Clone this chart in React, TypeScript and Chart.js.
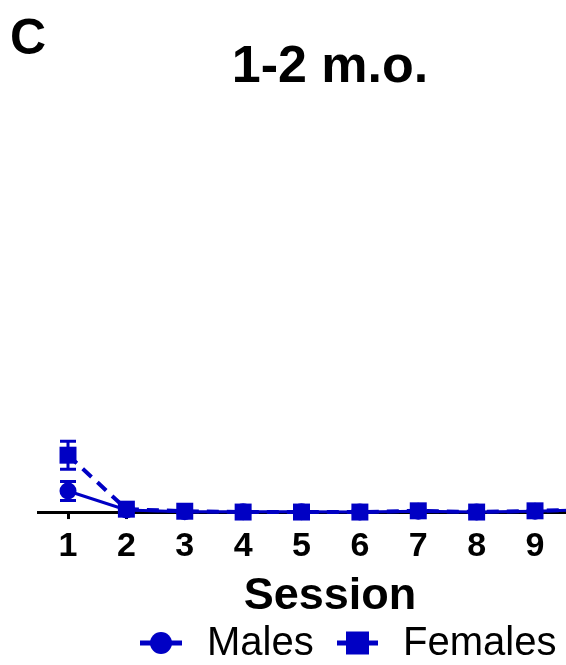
import React, { useEffect, useRef } from "react";
import { Chart, registerables } from "chart.js";

Chart.register(...registerables);

const sessions = [1, 2, 3, 4, 5, 6, 7, 8, 9, 10];
const tickValues = [1, 2, 3, 4, 5, 6, 7, 8, 9];
const malesMean = [5.1, 0.5, 0.1, 0.1, 0.1, 0.0, 0.2, 0.0, 0.2, 0.6];
const malesErr = [2.3, 0.2, 0.1, 0.1, 0.1, 0.0, 0.1, 0.0, 0.1, 0.2];
const femalesMean = [13.8, 0.7, 0.2, 0.0, 0.0, 0.0, 0.3, 0.0, 0.3, 0.7];
const femalesErr = [3.4, 0.3, 0.1, 0.0, 0.0, 0.0, 0.1, 0.0, 0.1, 0.2];
const seriesNames = ["Males", "Females"];
const panelLabel = "C";
const chartTitle = "1-2 m.o.";
const xTitle = "Session";

const BLUE = "#0000C4";
const FONT = "'Liberation Sans', Arial, Helvetica, sans-serif";

export default function App() {
  const ref = useRef<HTMLCanvasElement | null>(null);

  useEffect(() => {
    if (!ref.current) return;
    const errs = [malesErr, femalesErr];

    const errorBars = {
      id: "errorBars",
      afterDatasetsDraw(chart: any) {
        const ctx = chart.ctx;
        const xs = chart.scales.x;
        const ys = chart.scales.y;
        ctx.save();
        ctx.strokeStyle = BLUE;
        ctx.lineWidth = 3;
        chart.data.datasets.forEach((ds: any, di: number) => {
          ds.data.forEach((p: any, i: number) => {
            const e = errs[di][i];
            if (!e) return;
            const x = xs.getPixelForValue(p.x);
            const yt = ys.getPixelForValue(p.y + e);
            const yb = ys.getPixelForValue(p.y - e);
            ctx.beginPath();
            ctx.moveTo(x, yt);
            ctx.lineTo(x, yb);
            ctx.moveTo(x - 8, yt);
            ctx.lineTo(x + 8, yt);
            ctx.moveTo(x - 8, yb);
            ctx.lineTo(x + 8, yb);
            ctx.stroke();
          });
        });
        ctx.restore();
      },
    };

    const extras = {
      id: "extras",
      afterDraw(chart: any) {
        const ctx = chart.ctx;
        ctx.save();
        ctx.fillStyle = "#000";
        ctx.textBaseline = "alphabetic";
        ctx.textAlign = "left";
        ctx.font = `bold 50px ${FONT}`;
        ctx.fillText(panelLabel, 10, 54);

        // legend
        const ly = 643;
        const items = [
          { x0: 140, x1: 182, style: "circle", tx: 207 },
          { x0: 337, x1: 378, style: "rect", tx: 403 },
        ];
        items.forEach((it, i) => {
          ctx.strokeStyle = BLUE;
          ctx.fillStyle = BLUE;
          ctx.lineWidth = 5;
          ctx.beginPath();
          ctx.moveTo(it.x0, ly);
          ctx.lineTo(it.x1, ly);
          ctx.stroke();
          const cx = (it.x0 + it.x1) / 2;
          ctx.beginPath();
          if (it.style === "circle") {
            ctx.arc(cx, ly, 11, 0, Math.PI * 2);
          } else {
            ctx.rect(cx - 11.5, ly - 11.5, 23, 23);
          }
          ctx.fill();
          ctx.fillStyle = "#000";
          ctx.font = `40px ${FONT}`;
          ctx.fillText(seriesNames[i], it.tx, 655);
        });
        ctx.restore();
      },
    };

    const chart = new Chart(ref.current, {
      type: "line",
      data: {
        datasets: [
          {
            label: seriesNames[0],
            data: sessions.map((s, i) => ({ x: s, y: malesMean[i] })),
            borderColor: BLUE,
            backgroundColor: BLUE,
            borderWidth: 3,
            pointStyle: "circle",
            pointRadius: 8.5,
            pointBorderWidth: 0,
            pointBackgroundColor: BLUE,
            order: 2,
            clip: false as any,
          },
          {
            label: seriesNames[1],
            data: sessions.map((s, i) => ({ x: s, y: femalesMean[i] })),
            borderColor: BLUE,
            backgroundColor: BLUE,
            borderWidth: 4,
            borderDash: [12, 8],
            pointStyle: "rect",
            pointRadius: 12,
            pointBorderWidth: 0,
            pointBackgroundColor: BLUE,
            order: 1,
            clip: false as any,
          },
        ],
      },
      options: {
        responsive: false,
        animation: false,
        layout: { autoPadding: false, padding: { left: 38, right: 0, top: 0, bottom: 42.6 } },
        plugins: {
          legend: { display: false },
          tooltip: { enabled: false },
          title: {
            display: true,
            text: chartTitle,
            color: "#000",
            font: { family: FONT, size: 52, weight: "bold", lineHeight: 1.2 },
            padding: { top: 36, bottom: 1.6 },
          },
        },
        scales: {
          x: {
            type: "linear",
            min: 0.486,
            max: 10.49,
            afterBuildTicks: (scale: any) => {
              scale.ticks = tickValues.map((v) => ({ value: v }));
            },
            afterFit: (scale: any) => {
              scale.paddingLeft = 0;
              scale.paddingRight = 0;
            },
            grid: {
              display: true,
              drawOnChartArea: false,
              drawTicks: true,
              tickLength: 7,
              lineWidth: 3,
              color: "#000",
            },
            border: { display: true, width: 3, color: "#000" },
            ticks: {
              color: "#000",
              padding: 7,
              maxRotation: 0,
              autoSkip: false,
              font: { family: FONT, size: 34, weight: "bold", lineHeight: 1.2 },
            },
            title: {
              display: true,
              text: xTitle,
              color: "#000",
              font: { family: FONT, size: 45, weight: "bold", lineHeight: 0.99 },
              padding: { top: 0, bottom: 4 },
            },
          },
          y: {
            display: false,
            min: 0,
            max: 100,
          },
        },
      },
      plugins: [errorBars, extras],
    } as any);

    return () => chart.destroy();
  }, []);

  return (
    <div style={{ position: "absolute", left: 0, top: 0, width: 566, height: 665, overflow: "hidden", background: "#fff" }}>
      <canvas ref={ref} width={622} height={665} style={{ display: "block" }} />
    </div>
  );
}
